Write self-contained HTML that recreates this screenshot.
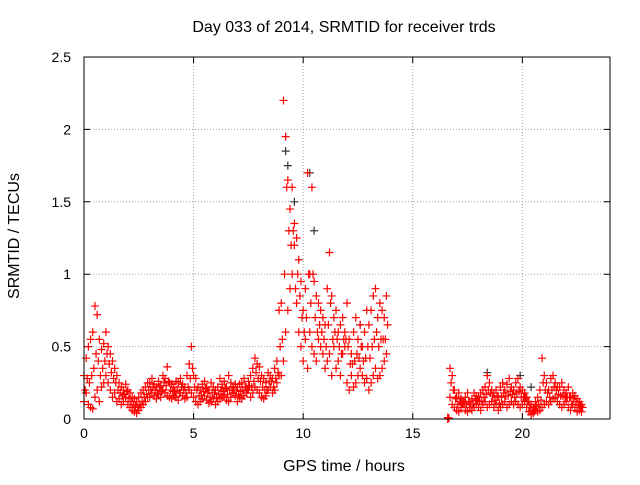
<!DOCTYPE html>
<html>
<head>
<meta charset="utf-8">
<style>
  html, body { margin: 0; padding: 0; background: #fff; }
  svg text { font-family: "Liberation Sans", sans-serif; font-size: 14px; fill: #000; }
  svg text.title { font-size: 16px; }
</style>
</head>
<body>
<svg id="chart" width="640" height="480" viewBox="0 0 640 480" xmlns="http://www.w3.org/2000/svg">
  <rect x="0" y="0" width="640" height="480" fill="#fff"/>
  <text class="title" x="344" y="32" text-anchor="middle">Day 033 of 2014, SRMTID for receiver trds</text>
  <text class="title" x="344" y="471" text-anchor="middle">GPS time / hours</text>
  <text class="title" x="0" y="0" text-anchor="middle" transform="translate(19,236) rotate(-90)">SRMTID / TECUs</text>
  <g id="grid"></g>
  <g id="ticks"></g>
  <g id="black-series"></g>
  <g id="red-series"></g>
  <rect x="84" y="57" width="526" height="362" fill="none" stroke="#000" stroke-width="1"/>
</svg>
<script>
const xTicks = [0, 5, 10, 15, 20];
const xTickLabels = ["0", "5", "10", "15", "20"];
const yTicks = [0, 0.5, 1, 1.5, 2, 2.5];
const yTickLabels = ["0", "0.5", "1", "1.5", "2", "2.5"];
const xDomain = [0, 24];
const yDomain = [0, 2.5];

const times = [
0.0,0.1,0.2,0.3,0.4,0.5,0.6,0.7,0.8,0.9,
1.0,1.1,1.2,1.3,1.4,1.5,1.6,1.7,1.8,1.9,
2.0,2.1,2.2,2.3,2.4,2.5,2.6,2.7,2.8,2.9,
3.0,3.1,3.2,3.3,3.4,3.5,3.6,3.7,3.8,3.9,
4.0,4.1,4.2,4.3,4.4,4.5,4.6,4.7,4.8,4.9,
5.0,5.1,5.2,5.3,5.4,5.5,5.6,5.7,5.8,5.9,
6.0,6.1,6.2,6.3,6.4,6.5,6.6,6.7,6.8,6.9,
7.0,7.1,7.2,7.3,7.4,7.5,7.6,7.7,7.8,7.9,
8.0,8.1,8.2,8.3,8.4,8.5,8.6,8.7,8.8,8.9,
9.0,9.1,9.2,9.3,9.4,9.5,9.6,9.7,9.8,9.9,
10.0,10.1,10.2,10.3,10.4,10.5,10.6,10.7,10.8,10.9,
11.0,11.1,11.2,11.3,11.4,11.5,11.6,11.7,11.8,11.9,
12.0,12.1,12.2,12.3,12.4,12.5,12.6,12.7,12.8,12.9,
13.0,13.1,13.2,13.3,13.4,13.5,13.6,13.7,13.8,
16.6,
16.7,16.8,16.9,17.0,17.1,17.2,17.3,17.4,17.5,17.6,
17.7,17.8,17.9,18.0,18.1,18.2,18.3,18.4,18.5,18.6,
18.7,18.8,18.9,19.0,19.1,19.2,19.3,19.4,19.5,19.6,
19.7,19.8,19.9,20.0,20.1,20.2,20.3,20.4,20.5,20.6,
20.7,20.8,20.9,21.0,21.1,21.2,21.3,21.4,21.5,21.6,
21.7,21.8,21.9,22.0,22.1,22.2,22.3,22.4,22.5,22.6,
22.7
];
const valuesLow = [
.12,.18,.10,.08,.07,.15,.20,.12,.22,.25,
.30,.25,.20,.15,.18,.12,.14,.10,.12,.15,
.10,.08,.06,.05,.04,.06,.08,.10,.12,.15,
.15,.18,.16,.14,.17,.15,.20,.18,.16,.15,
.14,.16,.15,.13,.18,.16,.14,.15,.20,.18,
.15,.12,.10,.12,.14,.16,.13,.11,.12,.14,
.10,.12,.14,.15,.16,.13,.12,.15,.18,.16,
.12,.15,.14,.16,.18,.20,.15,.18,.22,.20,
.18,.15,.14,.16,.20,.22,.18,.20,.25,.30,
.30,.40,.60,.75,.90,1.00,1.20,.80,.60,.50,
.40,.55,.35,.60,.50,.45,.40,.55,.50,.45,
.35,.40,.45,.30,.50,.35,.40,.30,.45,.50,
.25,.20,.30,.22,.25,.30,.35,.30,.25,.28,
.20,.25,.30,.35,.28,.30,.35,.40,.45,
0.0,
.15,.10,.08,.06,.05,.08,.10,.06,.05,.08,
.06,.08,.10,.08,.06,.10,.12,.08,.10,.12,
.08,.10,.06,.08,.10,.12,.08,.10,.12,.10,
.12,.10,.08,.10,.12,.08,.05,.03,.04,.06,
.05,.06,.08,.10,.12,.10,.12,.14,.15,.12,
.10,.08,.10,.12,.08,.06,.10,.08,.05,.06,
.05
];
const valuesMid = [
.20,.28,.25,.30,.35,.45,.40,.30,.35,.40,
.45,.38,.32,.28,.25,.20,.18,.16,.17,.19,
.14,.12,.10,.09,.08,.10,.12,.15,.17,.20,
.20,.22,.20,.18,.22,.19,.25,.23,.26,.20,
.19,.19,.20,.18,.22,.20,.18,.22,.28,.35,
.22,.20,.16,.16,.19,.21,.18,.15,.18,.18,
.15,.17,.20,.19,.21,.17,.20,.20,.20,.20,
.17,.19,.20,.22,.20,.23,.22,.26,.32,.28,
.26,.22,.20,.20,.26,.26,.22,.28,.32,.50,
.55,1.00,1.60,1.30,1.20,1.30,.90,1.00,.85,.70,
.60,.70,1.00,.80,1.00,.70,.60,.65,.60,.55,
.50,.65,.80,.55,.60,.55,.50,.45,.55,.55,
.50,.38,.38,.40,.45,.42,.50,.40,.42,.50,
.42,.50,.55,.60,.50,.55,.55,.55,.65,
0.005,
.25,.20,.14,.10,.12,.11,.11,.10,.12,.10,
.10,.13,.13,.12,.12,.15,.17,.20,.18,.16,
.13,.15,.11,.15,.18,.16,.16,.19,.17,.15,
.18,.19,.15,.15,.15,.12,.08,.06,.06,.09,
.10,.13,.25,.20,.18,.15,.20,.22,.20,.17,
.16,.16,.15,.15,.15,.10,.14,.12,.10,.09,
.08
];
const valuesHigh = [
.30,.42,.50,.55,.60,.78,.72,.55,.48,.52,
.60,.50,.45,.40,.35,.30,.25,.22,.20,.24,
.20,.18,.15,.14,.12,.15,.18,.20,.22,.25,
.25,.28,.24,.22,.26,.23,.30,.28,.36,.25,
.24,.22,.26,.25,.28,.24,.22,.30,.38,.50,
.30,.28,.22,.20,.24,.26,.22,.20,.25,.22,
.20,.22,.28,.24,.26,.22,.30,.25,.22,.24,
.22,.24,.25,.28,.22,.26,.30,.35,.42,.38,
.36,.30,.28,.25,.32,.30,.28,.35,.40,.75,
.80,2.20,1.95,1.65,1.45,1.60,1.35,1.25,1.10,.95,
.75,.90,1.70,1.00,1.60,.95,.85,.80,.75,.70,
.65,.90,1.15,.85,.70,.75,.60,.65,.70,.60,
.80,.55,.45,.60,.70,.55,.65,.50,.60,.75,
.65,.75,.85,.90,.70,.80,.75,.70,.85,
0.01,
.35,.30,.20,.15,.18,.14,.12,.15,.18,.12,
.14,.18,.16,.15,.18,.20,.22,.30,.25,.20,
.18,.20,.16,.22,.25,.20,.24,.28,.22,.20,
.25,.28,.22,.20,.18,.15,.12,.10,.08,.12,
.15,.20,.42,.30,.25,.20,.28,.30,.25,.22,
.22,.25,.20,.18,.22,.15,.18,.16,.14,.12,
.10
];
const blackTimes = [9.2, 9.3, 9.6, 10.3, 10.5, 12.6, 18.4, 19.9, 20.4];
const blackValues = [1.85, 1.75, 1.50, 1.70, 1.30, 0.65, 0.32, 0.30, 0.22];

const PL = 84, PR = 610, PT = 57, PB = 419;
function xScale(v) { return PL + (v - xDomain[0]) / (xDomain[1] - xDomain[0]) * (PR - PL); }
function yScale(v) { return PB - (v - yDomain[0]) / (yDomain[1] - yDomain[0]) * (PB - PT); }
const NS = "http://www.w3.org/2000/svg";
function mk(tag, attrs, parent) {
  const e = document.createElementNS(NS, tag);
  for (const k in attrs) e.setAttribute(k, attrs[k]);
  parent.appendChild(e);
  return e;
}
const grid = document.getElementById("grid");
const ticks = document.getElementById("ticks");
xTicks.forEach((t, i) => {
  const x = xScale(t);
  if (t > xDomain[0]) {
    const g = mk("line", {x1: x, y1: PT, x2: x, y2: PB, stroke: "#a0a0a0", "stroke-width": 1, "stroke-dasharray": "1,2"}, grid);
    
    
  }
  const tk = mk("path", {d: `M${x},${PB}v-6M${x},${PT}v6`, stroke: "#000"}, ticks);
  
  
  const lb = mk("text", {x: x, y: PB + 19, "text-anchor": "middle"}, ticks);
  lb.textContent = xTickLabels[i];
  
  
});
yTicks.forEach((t, i) => {
  const y = yScale(t);
  if (t > yDomain[0] && t < yDomain[1]) {
    const g = mk("line", {x1: PL, y1: y, x2: PR, y2: y, stroke: "#a0a0a0", "stroke-width": 1, "stroke-dasharray": "1,2"}, grid);
    
    
  }
  const tk = mk("path", {d: `M${PL},${y}h6M${PR},${y}h-6`, stroke: "#000"}, ticks);
  
  
  const lb = mk("text", {x: PL - 13, y: y + 5, "text-anchor": "end"}, ticks);
  lb.textContent = yTickLabels[i];
  
  
});
function plus(parent, t, v, color, name) {
  const x = xScale(t), y = yScale(v);
  const p = mk("path", {d: `M${x-4},${y}h8M${x},${y-4}v8`, stroke: color, "stroke-width": 1.2, fill: "none"}, parent);
  
  
}
const blk = document.getElementById("black-series");
blackTimes.forEach((t, i) => plus(blk, t, blackValues[i], "#333", "black-point"));
const red = document.getElementById("red-series");
times.forEach((t, i) => {
  plus(red, t, valuesLow[i], "#ff0000", "red-point");
  plus(red, t + 0.05, valuesMid[i], "#ff0000", "red-point");
  plus(red, t, valuesHigh[i], "#ff0000", "red-point");
});
</script>
</body>
</html>
